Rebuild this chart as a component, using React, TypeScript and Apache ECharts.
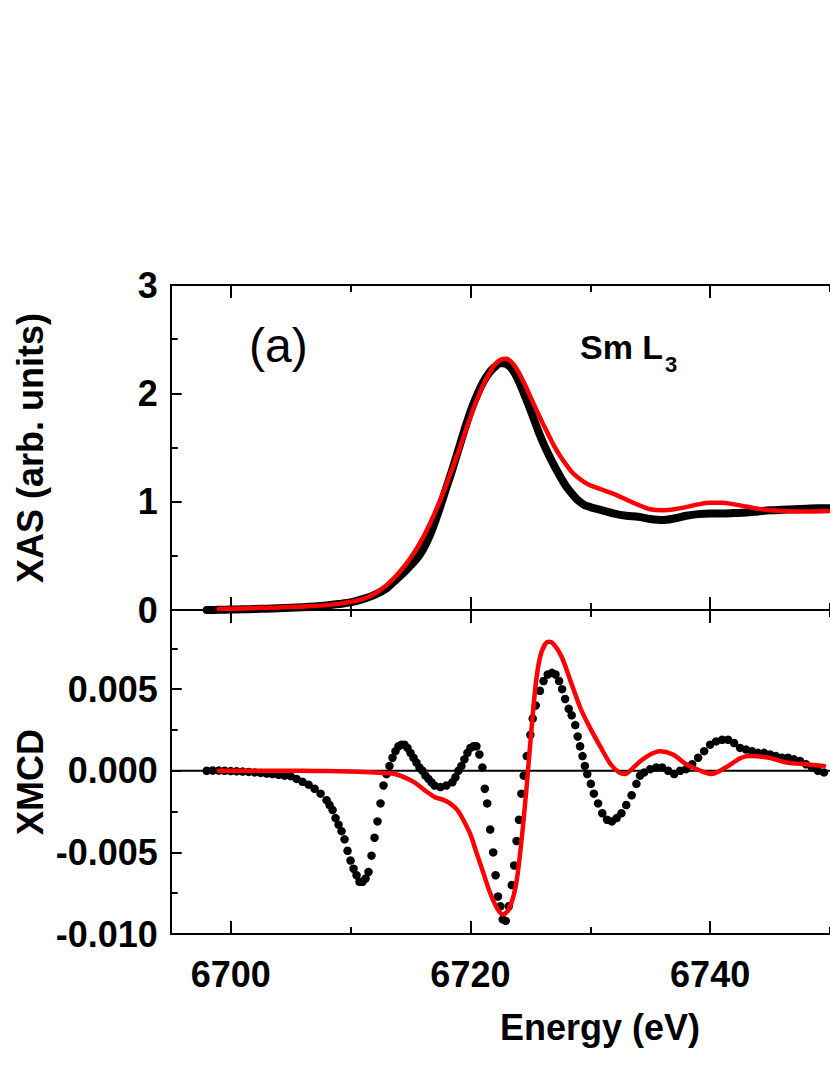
import React, { useEffect, useRef } from "react";
import * as echarts from "echarts";

// ---- Data ----
// Top panel: XAS (arb. units)
const xasExpE = [6698, 6699, 6700, 6701, 6702, 6703, 6704, 6705, 6706, 6707, 6708, 6709, 6710, 6711, 6712, 6713, 6713.6, 6714.3, 6715, 6715.5, 6716, 6716.5, 6717, 6717.5, 6718, 6718.5, 6719, 6719.5, 6720, 6720.5, 6721, 6721.5, 6722, 6722.5, 6723, 6723.5, 6724, 6724.5, 6725, 6725.5, 6726, 6726.5, 6727, 6727.5, 6728, 6728.5, 6729, 6729.5, 6730, 6731, 6732, 6733, 6734, 6735, 6736, 6737, 6738, 6739, 6740, 6741, 6742, 6743, 6744, 6745, 6746, 6747, 6748, 6749, 6750];
const xasExpV = [0.0, 0.002, 0.004, 0.006, 0.009, 0.012, 0.016, 0.02, 0.025, 0.032, 0.042, 0.055, 0.07, 0.1, 0.14, 0.2, 0.26, 0.33, 0.41, 0.47, 0.55, 0.66, 0.8, 0.96, 1.13, 1.3, 1.48, 1.66, 1.83, 1.97, 2.09, 2.18, 2.24, 2.28, 2.27, 2.22, 2.12, 1.99, 1.85, 1.7, 1.56, 1.44, 1.33, 1.23, 1.14, 1.07, 1.01, 0.97, 0.95, 0.92, 0.89, 0.87, 0.86, 0.84, 0.83, 0.845, 0.87, 0.885, 0.89, 0.89, 0.895, 0.9, 0.91, 0.92, 0.925, 0.93, 0.935, 0.94, 0.94];

const xasCalcE = [6699, 6700, 6702, 6704, 6706, 6708, 6710, 6711, 6712, 6713, 6714, 6715, 6716, 6717, 6718, 6719, 6719.5, 6720, 6720.5, 6721, 6721.5, 6722, 6722.5, 6723, 6723.5, 6724, 6724.5, 6725, 6725.5, 6726, 6726.5, 6727, 6727.5, 6728, 6728.5, 6729, 6729.5, 6730, 6731, 6732, 6733, 6734, 6735, 6736, 6737, 6738, 6739, 6740, 6741, 6742, 6743, 6744, 6745, 6746, 6747, 6748, 6750];
const xasCalcV = [0.01, 0.012, 0.018, 0.024, 0.032, 0.045, 0.075, 0.1, 0.15, 0.23, 0.34, 0.48, 0.66, 0.89, 1.16, 1.46, 1.62, 1.78, 1.93, 2.06, 2.17, 2.26, 2.31, 2.32, 2.28, 2.2, 2.09, 1.97, 1.85, 1.73, 1.62, 1.51, 1.42, 1.34, 1.27, 1.22, 1.18, 1.15, 1.11, 1.07, 1.02, 0.97, 0.93, 0.92, 0.93, 0.95, 0.975, 0.99, 0.99, 0.975, 0.955, 0.935, 0.92, 0.915, 0.91, 0.91, 0.915];

// Bottom panel: XMCD
const xmcdExpE = [6698, 6698.5, 6699, 6699.5, 6700, 6700.5, 6701, 6701.5, 6702, 6702.5, 6703, 6703.5, 6704, 6704.5, 6705, 6705.5, 6706, 6706.5, 6707, 6707.5, 6708, 6708.25, 6708.5, 6708.75, 6709, 6709.25, 6709.5, 6709.75, 6710, 6710.25, 6710.5, 6710.75, 6711, 6711.25, 6711.5, 6711.75, 6712, 6712.25, 6712.5, 6712.75, 6713, 6713.25, 6713.5, 6713.75, 6714, 6714.25, 6714.5, 6714.75, 6715, 6715.25, 6715.5, 6715.75, 6716, 6716.25, 6716.5, 6716.75, 6717, 6717.5, 6718, 6718.5, 6718.75, 6719, 6719.25, 6719.5, 6719.75, 6720, 6720.25, 6720.5, 6720.75, 6721, 6721.2, 6721.4, 6721.65, 6721.9, 6722.1, 6722.3, 6722.5, 6722.7, 6722.95, 6723.2, 6723.45, 6723.65, 6723.85, 6724.05, 6724.25, 6724.45, 6724.7, 6725, 6725.2, 6725.45, 6725.8, 6726.1, 6726.45, 6726.8, 6727.1, 6727.4, 6727.65, 6727.9, 6728.2, 6728.45, 6728.75, 6728.95, 6729.15, 6729.35, 6729.55, 6729.75, 6730.05, 6730.3, 6730.65, 6731, 6731.4, 6731.8, 6732.2, 6732.6, 6733, 6733.45, 6733.85, 6734.15, 6734.5, 6735, 6735.5, 6736, 6736.5, 6737, 6737.5, 6738, 6738.5, 6739, 6739.5, 6740, 6740.5, 6741, 6741.5, 6742, 6742.5, 6743, 6743.5, 6744, 6744.5, 6745, 6745.5, 6746, 6746.5, 6747, 6747.5, 6748, 6748.5, 6749, 6749.5];
const xmcdExpV = [0, 0.00002, 0.00001, 0, -0.00002, -0.00003, -0.00005, -0.00007, -0.0001, -0.00013, -0.00017, -0.0002, -0.00025, -0.0003, -0.00033, -0.0005, -0.00068, -0.00085, -0.0011, -0.0014, -0.0018, -0.0021, -0.0024, -0.0029, -0.0033, -0.0037, -0.0042, -0.0049, -0.0055, -0.006, -0.0064, -0.0068, -0.0068, -0.0066, -0.0062, -0.0052, -0.0041, -0.0031, -0.002, -0.0009, -0.0002, 0.0003, 0.0008, 0.0012, 0.0015, 0.0016, 0.0016, 0.0014, 0.0011, 0.0008, 0.0005, 0.0002, 0.0, -0.0003, -0.0005, -0.0007, -0.0009, -0.001, -0.0009, -0.0007, -0.0004, 0.0, 0.0003, 0.0007, 0.0011, 0.0014, 0.0015, 0.0015, 0.001, 0.0002, -0.0011, -0.002, -0.0036, -0.005, -0.0064, -0.0077, -0.0083, -0.0091, -0.0092, -0.0083, -0.007, -0.0058, -0.0043, -0.003, -0.0014, -0.0003, 0.0009, 0.0022, 0.0032, 0.004, 0.0049, 0.0055, 0.0059, 0.006, 0.0059, 0.0055, 0.005, 0.0044, 0.0038, 0.0034, 0.0028, 0.0021, 0.0015, 0.0009, 0.0003, -0.0002, -0.0008, -0.0014, -0.002, -0.0026, -0.003, -0.0031, -0.0029, -0.0026, -0.0021, -0.0015, -0.0008, -0.0003, -0.0001, 0.0001, 0.0002, 0.0002, 0.0, -0.0002, 0.0, 0.0001, 0.0004, 0.0008, 0.0012, 0.0016, 0.0018, 0.0019, 0.0019, 0.0017, 0.0014, 0.0013, 0.0012, 0.0011, 0.0011, 0.001, 0.0009, 0.0008, 0.0008, 0.0007, 0.0006, 0.0004, 0.0002, 0.0, -0.0001];

const xmcdCalcE = [6699, 6700, 6702, 6704, 6706, 6708, 6710, 6712, 6713, 6713.7, 6714.5, 6715.3, 6716.2, 6717, 6717.8, 6718.3, 6718.9, 6719.4, 6720, 6720.5, 6721.1, 6721.6, 6722.2, 6722.7, 6723.2, 6723.8, 6724.3, 6724.7, 6725.1, 6725.5, 6725.9, 6726.5, 6726.9, 6727.6, 6728.4, 6729.2, 6730, 6730.9, 6731.7, 6732.4, 6732.9, 6733.6, 6734.2, 6735, 6735.8, 6736.9, 6738, 6739.2, 6740.1, 6741.3, 6742.6, 6743.4, 6744.9, 6746.4, 6748, 6749.5];
const xmcdCalcV = [0, 0, 0, 0, 0, -0.00002, -0.00005, -0.0001, -0.00015, -0.0002, -0.0004, -0.0007, -0.0012, -0.0016, -0.0018, -0.002, -0.0024, -0.003, -0.0039, -0.005, -0.0063, -0.0074, -0.0084, -0.0088, -0.0085, -0.007, -0.004, -0.0009, 0.0026, 0.0056, 0.0072, 0.0079, 0.0078, 0.007, 0.0054, 0.0038, 0.0026, 0.0014, 0.0004, -0.0001, -0.0002, 0.0002, 0.0006, 0.001, 0.0012, 0.001, 0.0004, 0.0, -0.0002, 0.0002, 0.0008, 0.0009, 0.0008, 0.0005, 0.0004, 0.0003];

const xMajorTicks = [6700, 6720, 6740];
const xMinorTicks = [6710, 6730, 6750];
const X_MIN = 6695;
const X_MAX = 6750;

const FONT = '"Liberation Sans", Arial, Helvetica, sans-serif';
const zip = (a: number[], b: number[]) => a.map((v, i) => [v, b[i]]);

export default function App() {
  const ref = useRef<HTMLDivElement>(null);
  useEffect(() => {
    if (!ref.current) return;
    const chart = echarts.init(ref.current, undefined, { renderer: "svg" });
    const gridLeft = 170.75;
    const gridWidth = 673.75;
    const grids = [
      { left: gridLeft, top: 285, width: gridWidth, height: 325 },
      { left: gridLeft, top: 610, width: gridWidth, height: 324 },
    ];
    const lineStyle = { color: "#000", width: 2 };
    const mkX = (gridIndex: number, position: string, ticks: number[], len: number, showLine: boolean, labels: boolean) => ({
      type: "value",
      gridIndex,
      position,
      min: X_MIN,
      max: X_MAX,
      axisLine: { show: showLine, onZero: false, lineStyle },
      axisTick: { show: true, inside: true, length: len, customValues: ticks, lineStyle },
      axisLabel: labels
        ? {
            show: true,
            customValues: xMajorTicks,
            margin: 22,
            fontSize: 36,
            fontWeight: "bold",
            color: "#000",
            fontFamily: FONT,
            formatter: (v: number) => String(Math.round(v)),
          }
        : { show: false },
      splitLine: { show: false },
    });
    const xAxes = [
      mkX(0, "bottom", xMajorTicks, 13, true, false),
      mkX(0, "top", xMajorTicks, 13, true, false),
      mkX(1, "bottom", xMajorTicks, 13, true, true),
      mkX(1, "top", xMajorTicks, 13, true, false),
      mkX(0, "bottom", xMinorTicks, 7, false, false),
      mkX(0, "top", xMinorTicks, 7, false, false),
      mkX(1, "bottom", xMinorTicks, 7, false, false),
      mkX(1, "top", xMinorTicks, 7, false, false),
    ];
    const yAxes = [
      {
        type: "value",
        gridIndex: 0,
        min: 0,
        max: 3,
        interval: 1,
        axisLine: { show: true, onZero: false, lineStyle },
        axisTick: { show: true, inside: true, length: 11, lineStyle },
        minorTick: { show: true, splitNumber: 2, length: 7, lineStyle },
        axisLabel: { margin: 13, fontSize: 36, fontWeight: "bold", color: "#000", fontFamily: FONT },
        splitLine: { show: false },
      },
      {
        type: "value",
        gridIndex: 1,
        min: -0.01,
        max: 0.00985,
        interval: 0.005,
        axisLine: { show: true, onZero: false, lineStyle },
        axisTick: { show: true, inside: true, length: 11, lineStyle },
        minorTick: { show: true, splitNumber: 2, length: 7, lineStyle },
        axisLabel: {
          margin: 13,
          fontSize: 36,
          fontWeight: "bold",
          color: "#000",
          fontFamily: FONT,
          showMaxLabel: false,
          formatter: (v: number) => (Math.abs(v) < 1e-9 ? "0.000" : v.toFixed(3)),
        },
        splitLine: { show: false },
      },
    ];
    const option: any = {
      animation: false,
      backgroundColor: "#fff",
      grid: grids,
      xAxis: xAxes,
      yAxis: yAxes,
      series: [
        {
          type: "line",
          xAxisIndex: 0,
          yAxisIndex: 0,
          data: zip(xasExpE, xasExpV),
          showSymbol: false,
          smooth: 0.3,
          lineStyle: { color: "#000", width: 8, cap: "round", join: "round" },
          z: 2,
        },
        {
          type: "line",
          xAxisIndex: 0,
          yAxisIndex: 0,
          data: zip(xasCalcE, xasCalcV),
          showSymbol: false,
          smooth: 0.3,
          lineStyle: { color: "#ff0000", width: 4.5, cap: "round" },
          z: 3,
        },
        {
          type: "line",
          xAxisIndex: 2,
          yAxisIndex: 1,
          data: [[X_MIN, 0], [X_MAX, 0]],
          showSymbol: false,
          lineStyle: { color: "#000", width: 2 },
          z: 1,
        },
        {
          type: "scatter",
          xAxisIndex: 2,
          yAxisIndex: 1,
          data: zip(xmcdExpE, xmcdExpV),
          symbol: "circle",
          symbolSize: 8.5,
          itemStyle: { color: "#000", opacity: 1 },
          z: 2,
        },
        {
          type: "line",
          xAxisIndex: 2,
          yAxisIndex: 1,
          data: zip(xmcdCalcE, xmcdCalcV),
          showSymbol: false,
          smooth: 0.3,
          lineStyle: { color: "#ff0000", width: 4.5, cap: "round" },
          z: 3,
        },
      ],
      graphic: [
        {
          type: "text",
          x: 30,
          y: 448,
          rotation: Math.PI / 2,
          style: { text: "XAS (arb. units)", fontSize: 36, fontWeight: "bold", fill: "#000", fontFamily: FONT, textAlign: "center", textVerticalAlign: "middle" },
        },
        {
          type: "text",
          x: 30,
          y: 782,
          rotation: Math.PI / 2,
          style: { text: "XMCD", fontSize: 36, fontWeight: "bold", fill: "#000", fontFamily: FONT, textAlign: "center", textVerticalAlign: "middle" },
        },
        {
          type: "text",
          x: 600,
          y: 1027,
          style: { text: "Energy (eV)", fontSize: 36, fontWeight: "bold", fill: "#000", fontFamily: FONT, textAlign: "center", textVerticalAlign: "middle" },
        },
        {
          type: "text",
          x: 249,
          y: 345,
          style: { text: "(a)", fontSize: 48, fill: "#000", fontFamily: FONT, textAlign: "left", textVerticalAlign: "middle" },
        },
        {
          type: "text",
          x: 580,
          y: 347,
          style: { text: "Sm L", fontSize: 34, fontWeight: "bold", fill: "#000", fontFamily: FONT, textAlign: "left", textVerticalAlign: "middle" },
        },
        {
          type: "text",
          x: 665,
          y: 364,
          style: { text: "3", fontSize: 22, fontWeight: "bold", fill: "#000", fontFamily: FONT, textAlign: "left", textVerticalAlign: "middle" },
        },
      ],
    };
    chart.setOption(option);
    return () => chart.dispose();
  }, []);
  return <div ref={ref} style={{ position: "absolute", left: 0, top: 0, width: 830, height: 1075, background: "#fff" }} />;
}
